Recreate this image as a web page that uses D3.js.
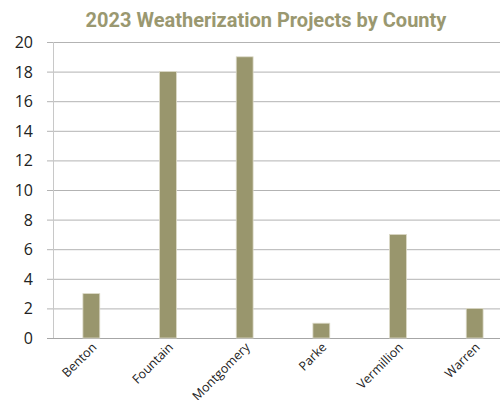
<!DOCTYPE html>
<meta charset="utf-8">
<style>
body { margin: 0; background: #fff; }
.title { font-family: Roboto, sans-serif; font-weight: bold; font-size: 20px; fill: #9a9870; }
.ytick { font-family: "Open Sans", sans-serif; font-size: 16px; fill: #222; }
.xtick { font-family: "Open Sans", sans-serif; font-size: 12.5px; fill: #222; }
</style>
<svg width="500" height="400"></svg>
<script src="https://d3js.org/d3.v7.min.js"></script>
<script>
var counties = ["Benton", "Fountain", "Montgomery", "Parke", "Vermillion", "Warren"];
var projects = [3, 18, 19, 1, 7, 2];
var yTicks = [0, 2, 4, 6, 8, 10, 12, 14, 16, 18, 20];

var svg = d3.select("svg");

var x = d3.scaleBand()
    .domain(counties)
    .range([53, 513])
    .paddingInner(0.78)
    .paddingOuter(0.39);

var y = d3.scaleLinear()
    .domain([0, 20])
    .range([338, 42]);

svg.append("text")
    .attr("class", "title")
    .attr("x", 266)
    .attr("y", 27)
    .attr("text-anchor", "middle")
    .text("2023 Weatherization Projects by County");

// gridlines
svg.append("g").selectAll("line")
    .data(yTicks)
    .enter().append("line")
    .attr("x1", 47)
    .attr("x2", 500)
    .attr("y1", function(d) { return y(d) + 0.5; })
    .attr("y2", function(d) { return y(d) + 0.5; })
    .attr("stroke", function(d) { return d === 0 ? "#a6a6a6" : "#b3b3b3"; })
    .attr("stroke-width", 1);

// y axis line
svg.append("line")
    .attr("x1", 53.5).attr("x2", 53.5)
    .attr("y1", y(20)).attr("y2", y(0))
    .attr("stroke", "#c8c8c8");

svg.append("g").selectAll("text")
    .data(yTicks)
    .enter().append("text")
    .attr("class", "ytick")
    .attr("x", 33)
    .attr("y", function(d) { return y(d) + 6; })
    .attr("text-anchor", "end")
    .text(function(d) { return d; });

svg.append("g").selectAll("rect")
    .data(projects)
    .enter().append("rect")
    .attr("x", function(d, i) { return x(counties[i]); })
    .attr("y", function(d) { return y(d); })
    .attr("width", x.bandwidth())
    .attr("height", function(d) { return y(0) - y(d); })
    .attr("fill", "#99966d")
    .attr("stroke", "#dcdac8")
    .attr("stroke-width", 0.8);

svg.append("g").selectAll("text")
    .data(counties)
    .enter().append("text")
    .attr("class", "xtick")
    .attr("text-anchor", "end")
    .attr("transform", function(d) {
        return "translate(" + (x(d) + x.bandwidth() / 2 + 6) + "," + 348 + ") rotate(-45)";
    })
    .text(function(d) { return d; });
</script>
